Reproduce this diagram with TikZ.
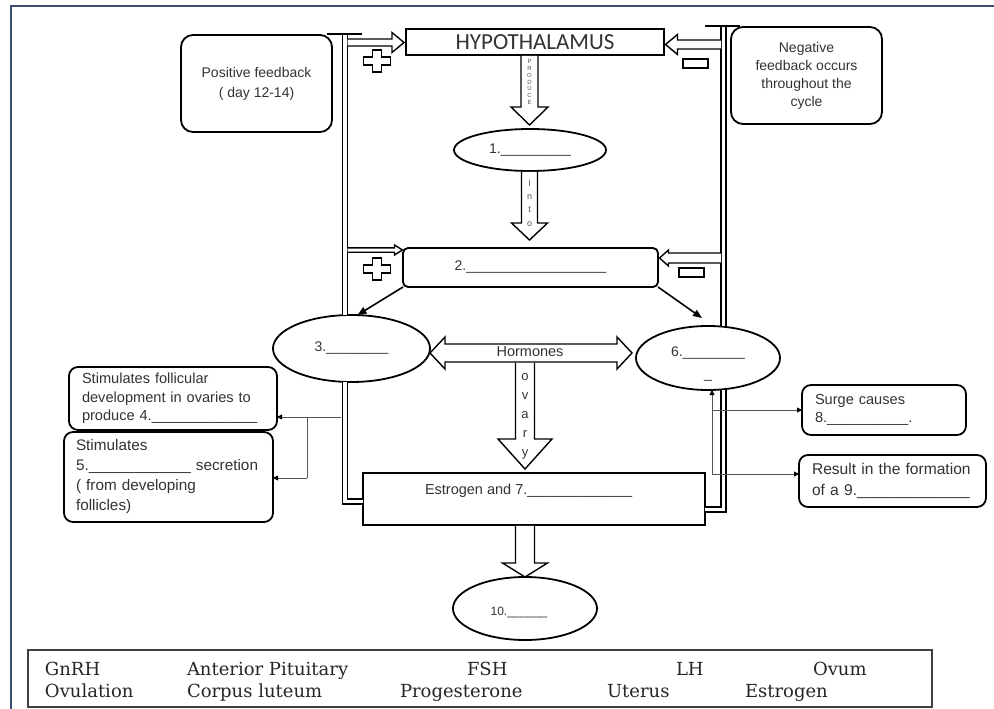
\documentclass[tikz,border=0pt]{standalone}
\usepackage{fontspec}
\setmainfont{Liberation Sans}
\newfontfamily\carl{Carlito}
\newfontfamily\serifL{DejaVu Serif}
\usetikzlibrary{shapes.geometric,arrows.meta,calc}
\definecolor{frameblue}{HTML}{3B5070}
\definecolor{txtgray}{HTML}{333333}
\definecolor{linkgray}{HTML}{555555}
\newcommand\myfs[2]{\fontsize{#1}{#2}\selectfont}
% hollow vertical arrow: x, y-start, y-tip, shaft half width, head half width, head length
\newcommand\harrowV[6]{\draw[harrow] ({#1-#4},{#2}) -- ({#1-#4},{#3-#6}) -- ({#1-#5},{#3-#6}) -- ({#1},{#3}) -- ({#1+#5},{#3-#6}) -- ({#1+#4},{#3-#6}) -- ({#1+#4},{#2});}
% hollow horizontal arrow: y, x-start, x-tip, shaft half width, head half width, signed head length
\newcommand\harrowH[6]{\draw[harrow] ({#2},{#1-#4}) -- ({#3-(#6)},{#1-#4}) -- ({#3-(#6)},{#1-#5}) -- ({#3},{#1}) -- ({#3-(#6)},{#1+#5}) -- ({#3-(#6)},{#1+#4}) -- ({#2},{#1+#4});}
\newcommand\plusmark[2]{\draw[sign] ({#1-4.5},{#2-11}) -- ({#1+4.5},{#2-11}) -- ({#1+4.5},{#2-4}) -- ({#1+13.5},{#2-4}) -- ({#1+13.5},{#2+4}) -- ({#1+4.5},{#2+4}) -- ({#1+4.5},{#2+11}) -- ({#1-4.5},{#2+11}) -- ({#1-4.5},{#2+4}) -- ({#1-13.5},{#2+4}) -- ({#1-13.5},{#2-4}) -- ({#1-4.5},{#2-4}) -- cycle;}
\begin{document}
\begin{tikzpicture}[x=1pt,y=-1pt,
  every node/.style={inner sep=0pt, outer sep=0pt, text=txtgray},
  box/.style={draw=black, line width=1.8pt},
  rbox/.style={box, rounded corners=12pt},
  ell/.style={draw=black, line width=1.8pt, ellipse},
  dbl/.style={draw=black, double=white, double distance=3.8pt, line width=1.3pt},
  harrow/.style={draw=black, line width=1.4pt, fill=white, line join=miter},
  sign/.style={draw=black, line width=1.4pt, fill=white},
  link/.style={draw=linkgray, line width=0.9pt, -{Triangle[length=5pt,width=5pt,color=black]}},
  plainlink/.style={draw=linkgray, line width=0.9pt},
  blk/.style={draw=black, line width=1.6pt, -{Triangle[length=9pt,width=7pt]}},
  lbl/.style={font=\myfs{14}{18}},
  legtxt/.style={font=\serifL\myfs{18}{22}, text=black!85, anchor=base west}
]
\useasboundingbox (0,0) rectangle (994,709);
\fill[white] (0,0) rectangle (994,709);
% outer frame
\draw[frameblue, line width=1.5pt] (11,709) -- (11,6) -- (994,6);

% main nodes
\node[box, minimum width=258, minimum height=26, anchor=north west, font=\carl\myfs{23}{23}] (hyp) at (406,29) {HYPOTHALAMUS};
\node[rbox, minimum width=151, minimum height=97, anchor=north west, align=center, font=\myfs{14}{20}] (pos) at (181,35) {Positive feedback\\( day 12-14)};
\node[rbox, minimum width=151, minimum height=97, anchor=north west, align=center, font=\myfs{14}{18}] (neg) at (731,27) {Negative\\feedback occurs\\throughout the\\cycle};
\node[ell, minimum width=152, minimum height=42, lbl] (e1) at (530,150) {1.\_\_\_\_\_\_\_\_\_};
\node[box, rounded corners=5pt, minimum width=255, minimum height=39, anchor=north west, lbl] (ap) at (403,248) {2.\_\_\_\_\_\_\_\_\_\_\_\_\_\_\_\_\_\_};
\node[ell, minimum width=157, minimum height=67, lbl] (e3) at (351.5,348.5) {3.\_\_\_\_\_\_\_\_};
\node[ell, minimum width=144, minimum height=64] (e6) at (708,358) {};
\node[lbl, align=center, font=\myfs{14}{22}] (e6t) at (708,364) {6.\_\_\_\_\_\_\_\_\\\_};
\node[box, minimum width=342, minimum height=52, anchor=north west] (est) at (363,473) {};
\node[font=\myfs{14.5}{18}, anchor=west] (estt) at (425,491) {Estrogen and 7.\_\_\_\_\_\_\_\_\_\_\_\_\_};
\node[ell, minimum width=144, minimum height=63] (e10) at (525,608.5) {};
\node[font=\myfs{12}{14}] (e10t) at (519,612) {10.\_\_\_\_\_\_};

% side info boxes
\node[box, rounded corners=9pt, minimum width=208, minimum height=63, anchor=north west, align=left, text width=182, inner xsep=13, font=\myfs{14.6}{18.5}] (b4) at (69,367) {Stimulates follicular\\development in ovaries to\\produce 4.\_\_\_\_\_\_\_\_\_\_\_\_\_};
\node[box, rounded corners=9pt, minimum width=209, minimum height=90, anchor=north west, align=left, text width=185, inner xsep=12, font=\myfs{15.3}{20}] (b5) at (64,432) {Stimulates\\5.\_\_\_\_\_\_\_\_\_\_\_\_ secretion\\( from developing\\follicles)};
\node[box, rounded corners=9pt, minimum width=164, minimum height=50, anchor=north west, align=left, text width=138, inner xsep=13, font=\myfs{14.6}{18.5}] (surge) at (802,385) {Surge causes\\8.\_\_\_\_\_\_\_\_\_\_.};
\node[box, rounded corners=9pt, minimum width=187, minimum height=52, anchor=north west, align=left, text width=161, inner xsep=13, font=\myfs{15.6}{21}] (res) at (799,455) {Result in the formation\\of a 9.\_\_\_\_\_\_\_\_\_\_\_\_\_};

% feedback double lines
\coordinate (Ltop) at (345,35);
\coordinate (Lbend) at (345,501.5);
\coordinate (Rtop) at (723.5,27);
\coordinate (Rbend) at (723.5,509.5);
\draw[dbl] (Ltop) -- (Ltop |- e3.north);
\draw[dbl] (Ltop |- e3.south) -- (Lbend) -- (Lbend -| est.west);
\draw[dbl] (Rtop) -- (Rtop |- e6.north);
\draw[dbl] (Rtop |- e6.south) -- (Rbend) -- (Rbend -| est.east);
\draw[line width=2pt] (327,34) -- (362,34);
\draw[line width=2pt] (705,26) -- (740,26);

% hollow arrows from the feedback lines
\harrowH{42.5}{347.5}{404}{3.5}{10}{12}
\harrowH{44.5}{721}{665.5}{4.5}{10}{-12}
\harrowH{250}{347.5}{402.5}{2.2}{5}{8}
\harrowH{258}{721}{659.5}{5}{8}{-9}
\plusmark{377}{61}
\plusmark{377}{269}
\draw[sign] (683,59) rectangle (708,68);
\draw[sign] (679,268) rectangle (704,277);

% central hollow arrows
\harrowV{529.5}{55.9}{125}{8.5}{18.5}{18}
\node[align=center, font=\myfs{6}{6.8}, text=linkgray] (produce) at (529.5,82) {P\\R\\O\\D\\U\\C\\E};
\harrowV{529.5}{171.9}{240}{8}{18}{17}
\node[align=center, font=\myfs{9}{13.3}, text=linkgray] (into) at (529.5,203) {I\\n\\t\\o};
\draw[harrow] (430,353) -- (445,337) -- (445,344) -- (617,344) -- (617,337) -- (632,353) -- (617,369) -- (617,362) -- (445,362) -- (445,369) -- cycle;
\harrowV{525}{363}{469}{9.5}{27}{30}
\node[font=\myfs{14.5}{16}] (horm) at (530,352) {Hormones};
\node[align=center, font=\myfs{13}{19}] (ovy) at (525,416) {o\\v\\a\\r\\y};
\harrowV{525}{525.9}{577}{9.5}{22.5}{14}

% black arrows from box 2
\draw[blk] (ap.south west) -- ($(e3.north)+(6,0)$);
\draw[blk] (ap.south east) -- ($(e6.north)+(-6,-8)$);

% thin grey connectors
\coordinate (LA) at (341,417);
\coordinate (LB) at (307,417);
\coordinate (LC) at (307,478);
\draw[link] (LA) -- (LA -| b4.east);
\draw[plainlink] (LB) -- (LC);
\draw[link] (LC) -- (LC -| b5.east);
\coordinate (RA) at (712,474);
\coordinate (RB) at (712,410);
\draw[link] (RA) -- (RA |- e6.south);
\draw[link] (RB) -- (RB -| surge.west);
\draw[link] (RA) -- (RA -| res.west);

% word bank
\node[draw=black!75, line width=1.3pt, minimum width=904, minimum height=57, anchor=north west] (leg) at (28,650) {};
\node[legtxt] (w1) at (45,675) {GnRH};
\node[legtxt] (w2) at (187,675) {Anterior Pituitary};
\node[legtxt] (w3) at (467,675) {FSH};
\node[legtxt] (w4) at (676,675) {LH};
\node[legtxt] (w5) at (813,675) {Ovum};
\node[legtxt] (w6) at (45,697) {Ovulation};
\node[legtxt] (w7) at (187,697) {Corpus luteum};
\node[legtxt] (w8) at (400,697) {Progesterone};
\node[legtxt] (w9) at (607,697) {Uterus};
\node[legtxt] (w10) at (745,697) {Estrogen};
\end{tikzpicture}
\end{document}
